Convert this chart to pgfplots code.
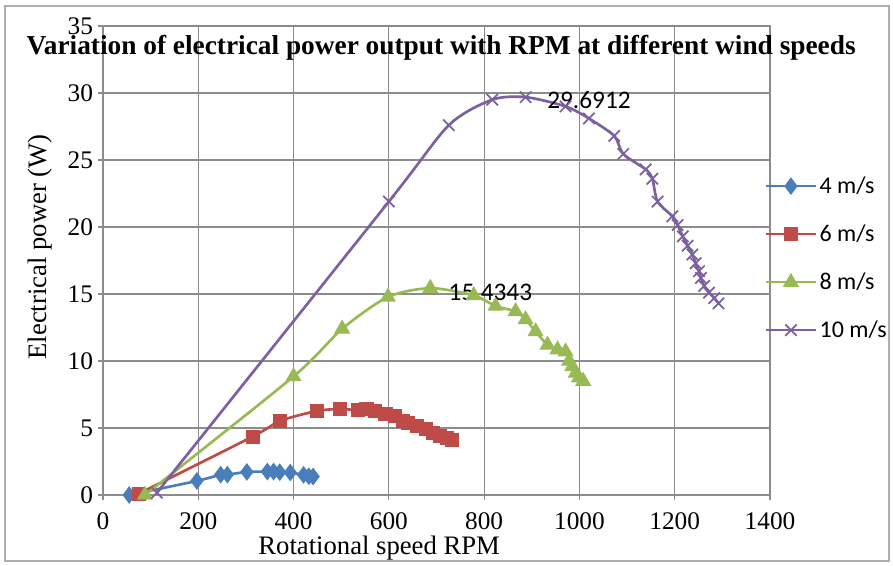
\documentclass[border=0pt]{standalone}
\usepackage{fontspec}
\setmainfont{Liberation Serif}
\newfontfamily\carlito{Carlito}
\usepackage{pgfplots}
\pgfplotsset{compat=1.18}

\definecolor{s4}{HTML}{4A7EBB}
\definecolor{s6}{HTML}{BE4B48}
\definecolor{s8}{HTML}{98B954}
\definecolor{s10}{HTML}{7D60A0}
\definecolor{gridc}{HTML}{8C8C8C}

\begin{document}
\begin{tikzpicture}
% 1 px of the reference = 0.75pt, axis box corner at px (103,495)
\path[use as bounding box] (-77.25pt,-52.5pt) rectangle (592.5pt,371.25pt);
\draw[gridc!70, line width=0.8pt] (-73.5pt,-49.5pt) rectangle (589.5pt,366.75pt);
\begin{axis}[
    at={(0pt,0pt)}, anchor=south west,
    scale only axis,
    width=500.25pt, height=351.75pt,
    xmin=0, xmax=1400, ymin=0, ymax=35,
    xtick={0,200,...,1400}, ytick={0,5,...,35},
    grid=major,
    grid style={gridc, line width=0.9pt},
    axis line style={gridc, line width=0.9pt},
    tick style={gridc, line width=0.9pt},
    tick align=outside, major tick length=4pt,
    xtick pos=left, ytick pos=left,
    ticklabel style={font=\fontsize{19}{20}\selectfont},
    xticklabel style={yshift=-6pt},
    /pgf/number format/assume math mode=true,
    /pgf/number format/1000 sep={},
    xlabel={Rotational speed RPM},
    ylabel={Electrical power (W)},
    label style={font=\fontsize{20}{22}\selectfont},
    xlabel style={at={(axis description cs:0.414,-0.113)}, anchor=center},
    ylabel style={at={(axis description cs:-0.094,0.529)}, anchor=center},
    title={Variation of electrical power output with RPM at different wind speeds},
    title style={at={(axis description cs:0.507,0.974)}, anchor=north,
        font=\bfseries\fontsize{20.5}{22}\selectfont},
    legend style={draw=none, fill=none, at={(axis description cs:0.992,0.505)},
        anchor=west, font=\carlito\fontsize{18}{19}\selectfont,
        row sep=18pt, inner sep=0pt},
    legend cell align=left,
    legend image code/.code={%
        \draw[#1, mark repeat=2, mark phase=2] plot coordinates {(0pt,0pt) (18.5pt,0pt) (37pt,0pt)};},
    every axis plot/.append style={line width=2pt, smooth, tension=0.45},
]
\addplot[s4, mark=diamond*, mark size=5pt, mark options={solid, fill=s4}] coordinates {
 (55,0) (197,1.05) (247,1.52) (261,1.52) (302,1.72) (345,1.75) (358,1.75)
 (371,1.7) (393,1.68) (421,1.5) (432,1.4) (441,1.38)
};
\addlegendentry{4 m/s}
\addplot[s6, mark=square*, mark size=4.3pt, mark options={solid, fill=s6}] coordinates {
 (75,0.1) (314,4.36) (372,5.53) (449,6.27) (498,6.42) (535,6.33) (553,6.45)
 (571,6.25) (593,6.05) (612,5.92) (630,5.5) (640,5.35) (659,5.13) (678,4.95)
 (692,4.65) (708,4.4) (722,4.25) (733,4.12)
};
\addlegendentry{6 m/s}
\addplot[s8, mark=triangle*, mark size=5pt, mark options={solid, fill=s8}] coordinates {
 (88,0) (400,8.85) (502,12.4) (598,14.78) (687,15.4343) (778,14.9) (824,14.1)
 (866,13.7) (887,13.1) (908,12.2) (933,11.2) (954,10.85) (971,10.7) (978,10.0)
 (985,9.6) (992,9.1) (999,8.75) (1008,8.5)
};
\addlegendentry{8 m/s}
\addplot[s10, mark=x, mark size=6pt, mark options={solid, line width=1.3pt}] coordinates {
 (113,0.17) (600,21.9) (726,27.6) (817,29.5) (887,29.6912) (971,29.0) (1020,28.1)
 (1073,26.8) (1092,25.45) (1139,24.3) (1153,23.6) (1164,21.9) (1195,20.8)
 (1206,20.15) (1217,19.3) (1227,18.6) (1237,17.95) (1244,17.3) (1251,16.7)
 (1255,16.2) (1262,15.6) (1272,15.1) (1283,14.7) (1292,14.3)
};
\addlegendentry{10 m/s}
\node[anchor=west, font=\carlito\fontsize{19}{20}\selectfont, inner sep=0pt]
    at (axis cs:932,29.45) {29.6912};
\node[anchor=west, font=\carlito\fontsize{19}{20}\selectfont, inner sep=0pt]
    at (axis cs:725,15.1) {15.4343};
\end{axis}
\end{tikzpicture}
\end{document}
